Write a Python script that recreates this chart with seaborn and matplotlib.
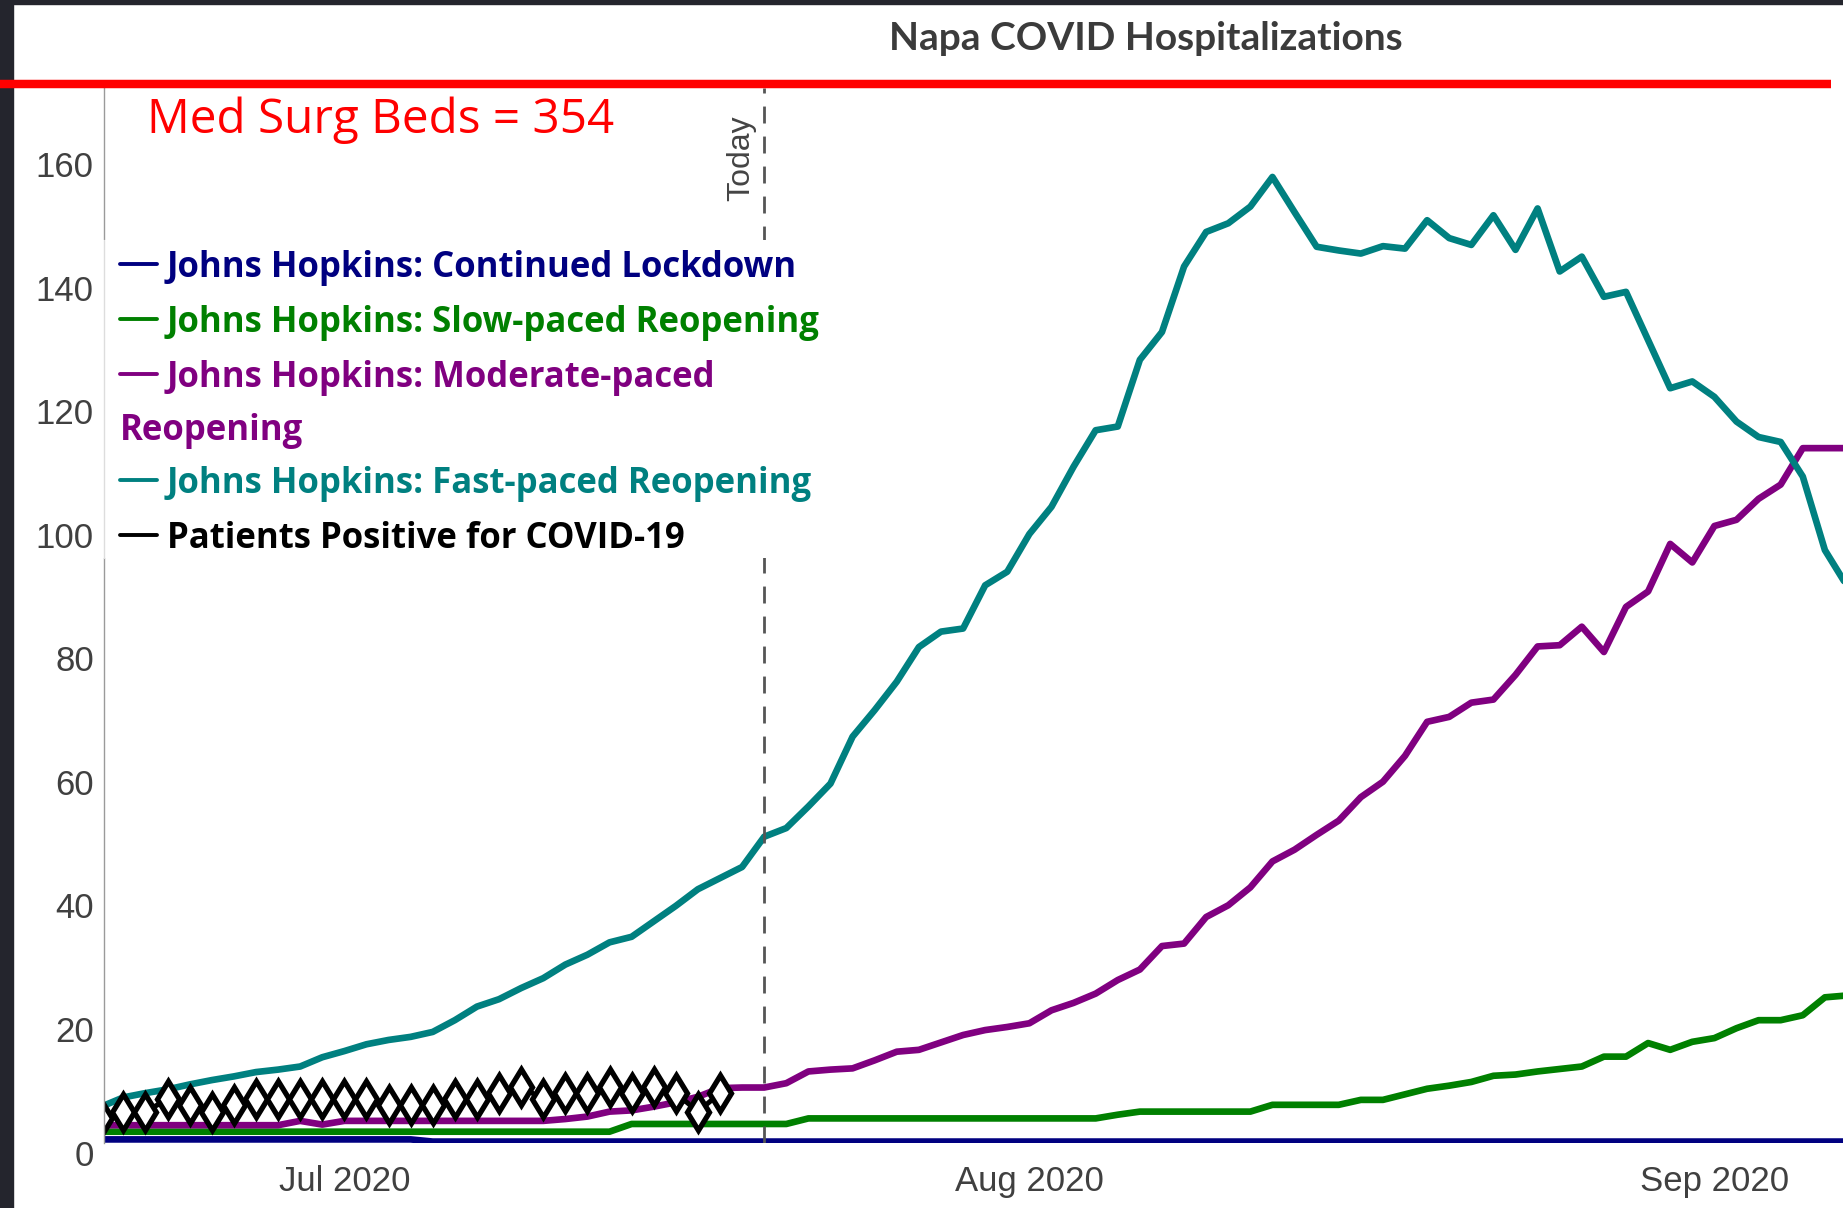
import pandas as pd
import matplotlib.pyplot as plt
import matplotlib.dates as mdates
from matplotlib.lines import Line2D
from matplotlib.patches import Rectangle
from matplotlib.transforms import ScaledTranslation
import seaborn as sns

# daily model scenarios, Jun 20 - Sep 7 2020
start = '2020-06-20'
lockdown = [0.5, 0.5, 0.5, 0.5, 0.5, 0.5, 0.5, 0.5, 0.5, 0.5, 0.5, 0.5, 0.5, 0.5, 0.5,
            0.15, 0.15, 0.15, 0.15, 0.15, 0.15, 0.15, 0.15, 0.15, 0.15, 0.15, 0.15, 0.15,
            0.15, 0.15, 0.15, 0.15, 0.15, 0.15, 0.15, 0.15, 0.15, 0.15, 0.15, 0.15, 0.15,
            0.15, 0.15, 0.15, 0.15, 0.15, 0.15, 0.15, 0.15, 0.15, 0.15, 0.15, 0.15, 0.15,
            0.15, 0.15, 0.15, 0.15, 0.15, 0.15, 0.15, 0.15, 0.15, 0.15, 0.15, 0.15, 0.15,
            0.15, 0.15, 0.15, 0.15, 0.15, 0.15, 0.15, 0.15, 0.15, 0.15, 0.15, 0.15, 0.15]
slow = [1.75, 1.75, 1.75, 1.75, 1.75, 1.75, 1.75, 1.75, 1.75, 1.75, 1.75, 1.75,
        1.75, 1.75, 1.75, 1.75, 1.75, 1.75, 1.75, 1.75, 1.75, 1.75, 1.75, 1.75,
        3.0, 3.0, 3.0, 3.0, 3.0, 3.0, 3.0, 3.0,
        3.9, 3.9, 3.9, 3.9, 3.9, 3.9, 3.9, 3.9, 3.9, 3.9, 3.9, 3.9, 3.9, 3.9,
        4.5, 5.0, 5.0, 5.0, 5.0, 5.0, 5.0, 6.1, 6.1, 6.1, 6.1, 6.9, 6.9,
        7.8, 8.7, 9.2, 9.8, 10.8, 11.0, 11.5, 11.9, 12.3, 13.9, 13.9, 16.1, 15.0,
        16.3, 16.9, 18.5, 19.8, 19.8, 20.6, 23.5, 23.8]
moderate = [2.8, 2.8, 2.8, 2.8, 2.8, 2.8, 2.8, 2.8, 2.8, 3.5, 2.9,
            3.5, 3.5, 3.5, 3.5, 3.5, 3.5, 3.5, 3.5, 3.5, 3.5, 3.8,
            4.2, 5.0, 5.2, 5.8, 6.5, 7.4, 8.8, 8.9, 8.9,
            9.6, 11.5, 11.8, 12.0, 13.3, 14.7, 15.0, 16.2, 17.4, 18.2, 18.7,
            19.3, 21.4, 22.6, 24.1, 26.3, 28.0, 31.8, 32.2, 36.5, 38.4, 41.3,
            45.5, 47.4, 49.8, 52.1, 55.9, 58.4, 62.6, 68.1, 68.9, 71.2, 71.7,
            75.7, 80.3, 80.5, 83.5, 79.4, 86.7, 89.2, 96.9, 93.9, 99.8, 100.8,
            104.2, 106.5, 112.4, 112.4, 112.4]
fast = [5.8, 7.3, 8.0, 8.6, 9.4, 10.1, 10.7, 11.4, 11.8, 12.3, 13.8, 14.8, 15.9,
        16.6, 17.1, 17.9, 19.8, 22.0, 23.2, 25.0, 26.6, 28.8, 30.4, 32.4, 33.3,
        35.8, 38.3, 41.0, 42.8, 44.6, 49.5, 50.9, 54.4, 58.1, 65.7, 70.0, 74.6,
        80.2, 82.7, 83.2, 90.2, 92.4, 98.5, 102.9, 109.4, 115.3, 115.9, 126.7,
        131.2, 141.8, 147.4, 148.8, 151.5, 156.3, 150.6, 145.0, 144.4, 143.9,
        145.1, 144.7, 149.3, 146.4, 145.3, 150.1, 144.5, 151.2, 141.0, 143.4,
        136.9, 137.7, 129.9, 122.1, 123.2, 120.7, 116.7, 114.2, 113.4, 107.8,
        95.9, 90.1]
# observed census, Jun 20 - Jul 18
patients = [4, 5, 5, 7, 6, 5, 6, 7, 7, 7, 7, 7, 7, 6, 6, 6, 7, 7, 8, 9, 7, 8, 8,
            9, 8, 9, 8, 5, 8]

scenarios = ['Johns Hopkins: Continued Lockdown', 'Johns Hopkins: Slow-paced Reopening',
             'Johns Hopkins: Moderate-paced Reopening', 'Johns Hopkins: Fast-paced Reopening']
colors = ['#000080', '#008000', '#800080', '#008080']
obs_label = 'Patients Positive for COVID-19'
today = pd.Timestamp('2020-07-20')
yticks = [0, 20, 40, 60, 80, 100, 120, 140, 160]

dates = pd.date_range(start, periods=len(fast), freq='D')
models = pd.DataFrame({'date': dates, scenarios[0]: lockdown, scenarios[1]: slow,
                       scenarios[2]: moderate, scenarios[3]: fast})
models = models.melt(id_vars='date', var_name='scenario', value_name='count')
obs = pd.DataFrame({'date': dates[:len(patients)], 'count': patients})

sns.set_theme(style='white')
plt.rcParams['font.family'] = ['Open Sans', 'DejaVu Sans']
tick_font = ['Liberation Sans', 'DejaVu Sans']

W, H = 1843, 1208
def fx(px):
    return px / W
def fy(py):
    return 1 - py / H

fig = plt.figure(figsize=(W / 100, H / 100), dpi=100)
ax = fig.add_axes([fx(103.5), fy(1142.5), 1 - fx(103.5), (1142.5 - 88) / H])

sns.lineplot(data=models, x='date', y='count', hue='scenario', hue_order=scenarios,
             palette=dict(zip(scenarios, colors)), linewidth=4.8, legend=False, ax=ax)
sns.lineplot(data=obs, x='date', y='count', color='black', linewidth=3.6, marker='d',
             markersize=18, markerfacecolor='white', markeredgecolor='black',
             markeredgewidth=3.8, legend=False, ax=ax)

ax.axvline(today, color='#555555', lw=2, linestyle=(0, (6.1, 4.7)))
ax.annotate('Today', xy=(today, 159.4), xytext=(-6, 0), textcoords='offset points',
            rotation=90, ha='right', va='center', fontsize=23, color='#444444',
            family=tick_font)

ax.set_xlim(dates[0] + pd.Timedelta(hours=2.4), dates[0] + pd.Timedelta(days=78.82))
ax.set_ylim(0, 170.7)
ax.set_yticks(yticks)
ax.xaxis.set_major_locator(mdates.MonthLocator())
ax.xaxis.set_major_formatter(mdates.DateFormatter('%b %Y'))
ax.set_xlabel('')
ax.set_ylabel('')
ax.tick_params(axis='both', length=0, labelsize=25, labelcolor='#404040',
               labelfontfamily=tick_font)
ax.tick_params(axis='x', pad=16)
ax.tick_params(axis='y', pad=7)
for side in ['top', 'right', 'bottom']:
    ax.spines[side].set_visible(False)
ax.spines['left'].set_color('#9a9a9a')
ax.spines['left'].set_linewidth(1)
shift = ScaledTranslation(0, -0.1, fig.dpi_scale_trans)
for tk in ax.yaxis.get_major_ticks():
    tk.label1.set_transform(tk.label1.get_transform() + shift)

# dark frame of the screenshot
fig.add_artist(Rectangle((0, 0), fx(13), 1, transform=fig.transFigure,
                         color='#24252d', zorder=2))
fig.add_artist(Rectangle((0, fy(4)), 1, 4 / H, transform=fig.transFigure,
                         color='#24252d', zorder=2))

fig.text(fx(1145.5), fy(50), 'Napa COVID Hospitalizations', ha='center', va='baseline',
         fontsize=28, fontweight='bold', family='Lato', color='#3b3b3b')
fig.add_artist(Line2D([0, fx(1831)], [fy(83.5), fy(83.5)], color='red', lw=6.1,
                      solid_capstyle='butt', zorder=5))
fig.text(fx(146.7), fy(133.3), 'Med Surg Beds = 354', color='red', fontsize=34.3,
         va='baseline', zorder=6)

# legend box
fig.add_artist(Rectangle((fx(100), fy(558)), fx(840) - fx(100), fy(240) - fy(558),
                         transform=fig.transFigure, facecolor='white',
                         edgecolor='none', zorder=3))
fig.add_artist(Line2D([fx(104), fx(104)], [fy(240), fy(558)], color='#dddddd', lw=1,
                      zorder=4))
entries = [(scenarios[0], colors[0], 276.7), (scenarios[1], colors[1], 331.7),
           ('Johns Hopkins: Moderate-paced', colors[2], 386.7),
           (scenarios[3], colors[3], 493.3), (obs_label, 'black', 548.3)]
for label, c, base in entries:
    fig.add_artist(Line2D([fx(120), fx(157)], [fy(base - 13), fy(base - 13)], color=c,
                          lw=2.8, zorder=4))
    fig.text(fx(167), fy(base), label, color=c, fontsize=25, fontweight='bold',
             va='baseline', zorder=4)
fig.text(fx(120), fy(440), 'Reopening', color=colors[2], fontsize=25, fontweight='bold',
         va='baseline', zorder=4)

fig.savefig('out.png', dpi=100)
